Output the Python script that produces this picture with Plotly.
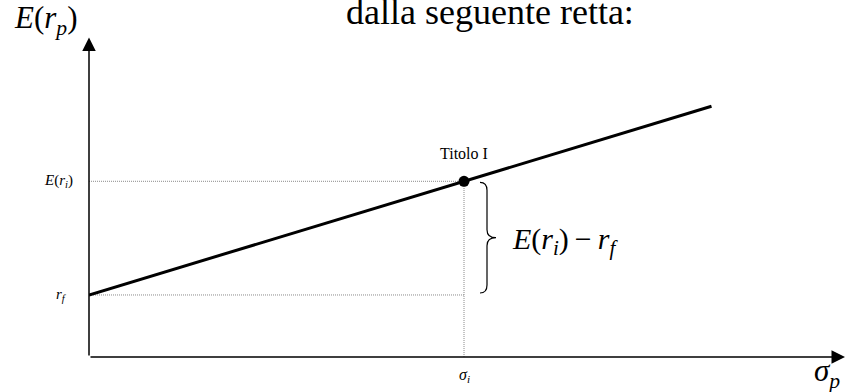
import plotly.graph_objects as go

# ---- data ----
sigma_i = 5.0          # risk of security I
r_f = 3.0              # risk-free rate
E_ri = 8.5             # expected return of security I
line_x = [0.0, 5.0, 8.3]     # capital market line (sigma_p)
line_y = [3.0, 8.5, 12.13]   # E(r_p)
x_max = 10.08
y_max = 17.27
y_arrow_top = 15.45

title_text = "dalla seguente retta:"
point_label = "Titolo I"
FONT = "Liberation Serif"

# pixel -> data scale helpers (for decoration offsets)
PX_X = 75.0
PX_Y = 20.67

fig = go.Figure()

dot = dict(color="#8a8a8a", width=1, dash="1px,1px")
# dotted guide lines
fig.add_trace(go.Scatter(x=[0, sigma_i], y=[E_ri, E_ri], mode="lines", line=dot, hoverinfo="skip"))
fig.add_trace(go.Scatter(x=[0, sigma_i], y=[r_f, r_f], mode="lines", line=dot, hoverinfo="skip"))
fig.add_trace(go.Scatter(x=[sigma_i, sigma_i], y=[0, E_ri], mode="lines", line=dot, hoverinfo="skip"))

# main line
fig.add_trace(go.Scatter(x=line_x, y=line_y, mode="lines",
                         line=dict(color="black", width=3), hoverinfo="skip"))
# point
fig.add_trace(go.Scatter(x=[sigma_i], y=[E_ri], mode="markers",
                         marker=dict(color="black", size=11), hoverinfo="skip"))

# axes with arrows
fig.add_annotation(x=x_max, y=0, ax=0, ay=0, xref="x", yref="y", axref="x", ayref="y",
                   showarrow=True, arrowhead=2, arrowsize=1.8, arrowwidth=1.5, arrowcolor="black", text="")
fig.add_annotation(x=0, y=y_arrow_top, ax=0, ay=0, xref="x", yref="y", axref="x", ayref="y",
                   showarrow=True, arrowhead=2, arrowsize=1.8, arrowwidth=1.5, arrowcolor="black", text="")

# brace
x0 = sigma_i + 16 / PX_X
x1 = x0 + 7 / PX_X
x2 = x0 + 16 / PX_X
yt = E_ri - 1 / PX_Y
yb = r_f + 2 / PX_Y
ym = (yt + yb) / 2
c = 8 / PX_Y
path = (f"M {x0},{yt} Q {x1},{yt} {x1},{yt - c} L {x1},{ym + c} "
        f"Q {x1},{ym} {x2},{ym} Q {x1},{ym} {x1},{ym - c} "
        f"L {x1},{yb + c} Q {x1},{yb} {x0},{yb}")
fig.add_shape(type="path", path=path, xref="x", yref="y",
              line=dict(color="black", width=1.2))

def ann(text, x, y, size, xanchor="center", yanchor="middle", xshift=0, yshift=0):
    fig.add_annotation(text=text, x=x, y=y, xref="x", yref="y", showarrow=False,
                       font=dict(family=FONT, size=size, color="black"),
                       xanchor=xanchor, yanchor=yanchor, xshift=xshift, yshift=yshift)

ann("<i>E</i>(<i>r</i><sub><i>p</i></sub>)", 0, 16.3, 31, xanchor="right", xshift=-9)
ann("<i>E</i>(<i>r</i><sub><i>i</i></sub>)", 0, E_ri, 15, xanchor="right", xshift=-14)
ann("<i>r</i><sub><i>f</i></sub>", 0, r_f, 15, xanchor="right", xshift=-20)
ann("<i>σ</i><sub><i>i</i></sub>", sigma_i, 0, 16, yshift=-18)
ann("<i>σ</i><sub><i>p</i></sub>", x_max, 0, 31, xanchor="right", xshift=-3, yshift=-16)
ann(point_label, sigma_i, E_ri, 16, yshift=28)
ann("<i>E</i>(<i>r</i><sub><i>i</i></sub>)\u2009−\u2009<i>r</i><sub><i>f</i></sub>", x2, ym, 30,
    xanchor="left", xshift=14, yshift=-3)
ann(title_text, (490 - 89) / PX_X, 16.7, 36)

fig.update_layout(
    width=845, height=392,
    margin=dict(l=89, r=0, t=0, b=35, autoexpand=False),
    paper_bgcolor="white", plot_bgcolor="white",
    showlegend=False,
    xaxis=dict(range=[0, x_max], visible=False, fixedrange=True),
    yaxis=dict(range=[0, y_max], visible=False, fixedrange=True),
)

fig.write_html("out.html", config={"displayModeBar": False},
               post_script="document.body.style.margin='0';")
